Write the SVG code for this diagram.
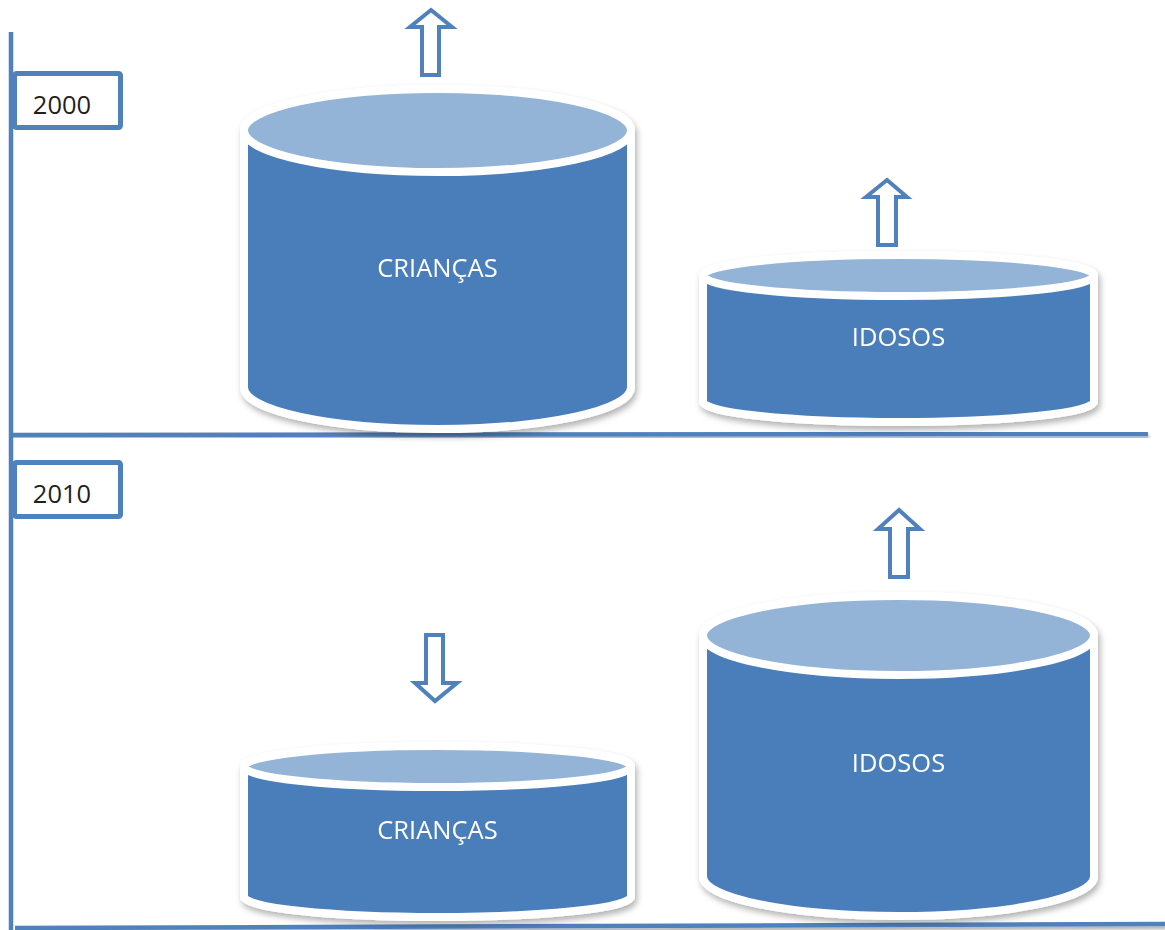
<svg xmlns="http://www.w3.org/2000/svg" width="1165" height="930" viewBox="0 0 1165 930">
<defs>
<filter id="sh" x="-10%" y="-10%" width="125%" height="130%">
<feDropShadow dx="2" dy="4" stdDeviation="3" flood-color="#000" flood-opacity="0.3"/>
</filter>
<filter id="lsh" x="-5%" y="-200%" width="110%" height="600%">
<feDropShadow dx="1" dy="3" stdDeviation="1.5" flood-color="#000" flood-opacity="0.3"/>
</filter>
</defs>
<style>
.axis{stroke:#4F81BD;stroke-width:4.5;fill:none}
.body{fill:#4A7EBB;stroke:#fff;stroke-width:8}
.top{fill:#93B3D7;stroke:#fff;stroke-width:8}
.lbl{fill:#fff;font-family:"Open Sans","Liberation Sans",sans-serif;font-size:25.5px;text-anchor:middle}
.year{fill:#fff;stroke:#4F81BD;stroke-width:5}
.yt{fill:#231F20;font-family:"Open Sans","Liberation Sans",sans-serif;font-size:25.5px;text-anchor:middle}
.arr{fill:#fff;stroke:#4F81BD;stroke-width:4;stroke-linejoin:miter}
</style>
<g id="axes">
<line class="axis" x1="11" y1="32" x2="11" y2="930"/>
<line class="axis" x1="10" y1="435" x2="1148" y2="434" filter="url(#lsh)"/>
<line class="axis" x1="15" y1="928" x2="1165" y2="924" filter="url(#lsh)"/>
</g>
<g id="year2000">
<rect class="year" x="14.5" y="73.5" width="106" height="54" rx="2"/>
<text class="yt" x="62" y="114">2000</text>
</g>
<g id="year2010">
<rect class="year" x="14.5" y="462.5" width="106" height="54" rx="2"/>
<text class="yt" x="62" y="503">2010</text>
</g>
<g id="criancas2000" filter="url(#sh)">
<path class="body" d="M244,130.5 L244,387.5 A193.5,41.5 0 0 0 631,387.5 L631,130.5 A193.5,41.5 0 0 0 244,130.5 Z"/>
<ellipse class="top" cx="437.5" cy="130.5" rx="193.5" ry="41.5"/>
<text class="lbl" x="437.5" y="277">CRIANÇAS</text>
</g>
<g id="idosos2000" filter="url(#sh)">
<path class="body" d="M703,275.5 L703,401.5 A195.5,20.5 0 0 0 1094,401.5 L1094,275.5 A195.5,20.5 0 0 0 703,275.5 Z"/>
<ellipse class="top" cx="898.5" cy="275.5" rx="195.5" ry="20.5"/>
<text class="lbl" x="898.5" y="346">IDOSOS</text>
</g>
<g id="criancas2010" filter="url(#sh)">
<path class="body" d="M244,766.5 L244,896.5 A193.5,20.5 0 0 0 631,896.5 L631,766.5 A193.5,20.5 0 0 0 244,766.5 Z"/>
<ellipse class="top" cx="437.5" cy="766.5" rx="193.5" ry="20.5"/>
<text class="lbl" x="437.5" y="839">CRIANÇAS</text>
</g>
<g id="idosos2010" filter="url(#sh)">
<path class="body" d="M703,635.5 L703,876.5 A195.5,39.5 0 0 0 1094,876.5 L1094,635.5 A195.5,39.5 0 0 0 703,635.5 Z"/>
<ellipse class="top" cx="898.5" cy="635.5" rx="195.5" ry="39.5"/>
<text class="lbl" x="898.5" y="772">IDOSOS</text>
</g>
<g id="arrows">
<polygon class="arr" points="431,10 452,27 439,27 439,75 422,75 422,27 410,27"/>
<polygon class="arr" points="887,180 907,197 896,197 896,245 878,245 878,197 866,197"/>
<polygon class="arr" points="426,635 443,635 443,683 457,683 435,701 415,683 426,683"/>
<polygon class="arr" points="899,510 920,529 908,529 908,577 890,577 890,529 878,529"/>
</g>
</svg>
